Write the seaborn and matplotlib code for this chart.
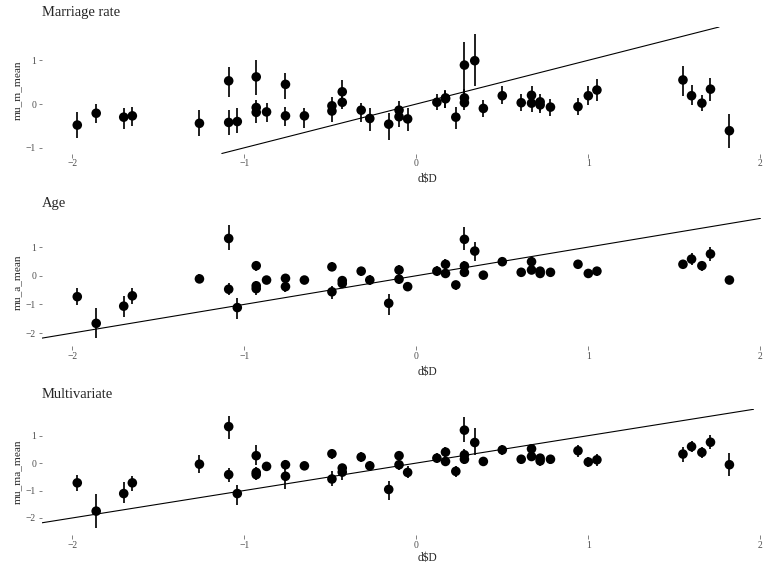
import numpy as np
import pandas as pd

import matplotlib
matplotlib.use("Agg")
import matplotlib.pyplot as plt
import seaborn as sns

# =====================
# DATA
# =====================

D = [-1.97, -1.86, -1.70, -1.65, -1.26, -1.09, -1.09, -1.04, -0.93, -0.93,
     -0.93, -0.87, -0.76, -0.76, -0.65, -0.49, -0.49, -0.43, -0.43, -0.32,
     -0.27, -0.16, -0.10, -0.10, -0.05, 0.12, 0.17, 0.17, 0.23, 0.28,
     0.28, 0.28, 0.34, 0.39, 0.50, 0.61, 0.67, 0.67, 0.72, 0.72,
     0.78, 0.94, 1.00, 1.05, 1.55, 1.60, 1.66, 1.71, 1.82]

mu_m_mean = [-0.48, -0.21, -0.30, -0.27, -0.44, 0.53, -0.42, -0.40, 0.62, -0.08,
             -0.19, -0.18, 0.45, -0.27, -0.27, -0.04, -0.16, 0.28, 0.04, -0.14,
             -0.33, -0.46, -0.14, -0.29, -0.34, 0.04, 0.14, 0.12, -0.30, 0.89,
             0.14, 0.03, 0.99, -0.10, 0.19, 0.03, 0.20, 0.02, 0.05, -0.02,
             -0.07, -0.06, 0.19, 0.32, 0.55, 0.19, 0.02, 0.34, -0.61]
mu_m_lo = [-0.78, -0.44, -0.56, -0.50, -0.74, 0.17, -0.71, -0.66, 0.20, -0.30,
           -0.43, -0.40, 0.11, -0.50, -0.55, -0.22, -0.40, 0.02, -0.12, -0.40,
           -0.62, -0.82, -0.35, -0.52, -0.62, -0.14, -0.09, -0.08, -0.56, 0.21,
           -0.05, -0.14, 0.41, -0.30, 0.00, -0.15, -0.02, -0.18, -0.15, -0.20,
           -0.28, -0.25, -0.02, 0.08, 0.18, -0.03, -0.16, 0.08, -1.00]
mu_m_hi = [-0.18, 0.00, -0.10, -0.07, -0.13, 0.85, -0.14, -0.09, 1.00, 0.10,
           0.02, 0.02, 0.71, -0.06, -0.08, 0.15, 0.05, 0.55, 0.20, 0.02,
           -0.09, -0.20, 0.08, -0.05, -0.09, 0.22, 0.33, 0.30, -0.06, 1.41,
           0.35, 0.20, 1.59, 0.10, 0.41, 0.22, 0.42, 0.20, 0.22, 0.15,
           0.12, 0.13, 0.41, 0.57, 0.88, 0.43, 0.21, 0.60, -0.23]

mu_a_mean = [-0.73, -1.66, -1.06, -0.70, -0.11, 1.30, -0.47, -1.11, 0.35, -0.35,
             -0.45, -0.15, -0.09, -0.38, -0.15, 0.31, -0.56, -0.17, -0.27, 0.16,
             -0.15, -0.96, 0.20, -0.12, -0.38, 0.16, 0.40, 0.08, -0.32, 1.27,
             0.34, 0.12, 0.86, 0.02, 0.49, 0.12, 0.49, 0.20, 0.16, 0.08,
             0.12, 0.40, 0.08, 0.16, 0.40, 0.58, 0.35, 0.76, -0.15]
mu_a_lo = [-1.02, -2.18, -1.45, -0.97, -0.27, 0.90, -0.67, -1.51, 0.18, -0.55,
           -0.66, -0.30, -0.22, -0.55, -0.30, 0.15, -0.82, -0.32, -0.42, 0.00,
           -0.32, -1.36, 0.02, -0.30, -0.52, 0.00, 0.22, -0.08, -0.50, 0.90,
           0.15, -0.05, 0.51, -0.12, 0.33, -0.03, 0.33, 0.05, 0.00, -0.08,
           -0.02, 0.22, -0.08, 0.00, 0.22, 0.36, 0.18, 0.50, -0.30]
mu_a_hi = [-0.44, -1.14, -0.70, -0.42, 0.05, 1.77, -0.27, -0.76, 0.52, -0.18,
           -0.27, 0.00, 0.05, -0.22, -0.02, 0.47, -0.35, -0.03, -0.12, 0.32,
           0.02, -0.62, 0.38, 0.05, -0.22, 0.33, 0.58, 0.25, -0.18, 1.71,
           0.50, 0.28, 1.16, 0.15, 0.65, 0.27, 0.66, 0.35, 0.30, 0.22,
           0.26, 0.56, 0.22, 0.32, 0.56, 0.78, 0.52, 1.00, 0.00]

mu_ma_mean = [-0.72, -1.75, -1.11, -0.72, -0.04, 1.33, -0.42, -1.11, 0.27, -0.34,
              -0.42, -0.12, -0.06, -0.48, -0.10, 0.34, -0.58, -0.18, -0.33, 0.22,
              -0.10, -0.96, 0.27, -0.06, -0.34, 0.18, 0.40, 0.06, -0.30, 1.20,
              0.30, 0.14, 0.75, 0.06, 0.48, 0.14, 0.52, 0.24, 0.18, 0.08,
              0.14, 0.45, 0.04, 0.12, 0.33, 0.60, 0.39, 0.76, -0.06]
mu_ma_lo = [-1.02, -2.37, -1.45, -1.00, -0.36, 0.87, -0.68, -1.53, -0.06, -0.55,
            -0.60, -0.25, -0.25, -0.95, -0.25, 0.14, -0.82, -0.35, -0.60, 0.03,
            -0.30, -1.33, 0.05, -0.25, -0.55, 0.02, 0.20, -0.12, -0.50, 0.78,
            0.10, -0.05, 0.28, -0.10, 0.30, -0.03, 0.32, 0.08, 0.02, -0.10,
            -0.02, 0.22, -0.14, -0.10, 0.05, 0.40, 0.18, 0.52, -0.48]
mu_ma_hi = [-0.42, -1.11, -0.69, -0.46, 0.30, 1.72, -0.18, -0.78, 0.66, -0.15,
            -0.25, 0.02, 0.12, -0.18, 0.05, 0.52, -0.30, -0.02, -0.15, 0.42,
            0.08, -0.64, 0.45, 0.15, -0.12, 0.35, 0.60, 0.25, -0.12, 1.69,
            0.50, 0.32, 1.29, 0.20, 0.66, 0.30, 0.70, 0.40, 0.32, 0.25,
            0.30, 0.65, 0.22, 0.32, 0.60, 0.82, 0.58, 1.02, 0.36]

titles = ["Marriage rate", "Age", "Multivariate"]
ylabels = ["mu_m_mean", "mu_a_mean", "mu_ma_mean"]
x_ticks = [-2, -1, 0, 1, 2]
y_ticks = [[-1, 0, 1], [-2, -1, 0, 1], [-2, -1, 0, 1]]

abline_intercept = 0
abline_slope = 1

df = pd.DataFrame({
    "D": D,
    "mu_m_mean": mu_m_mean, "mu_m_lo": mu_m_lo, "mu_m_hi": mu_m_hi,
    "mu_a_mean": mu_a_mean, "mu_a_lo": mu_a_lo, "mu_a_hi": mu_a_hi,
    "mu_ma_mean": mu_ma_mean, "mu_ma_lo": mu_ma_lo, "mu_ma_hi": mu_ma_hi,
})

# =====================
# STYLE
# =====================

sns.set_style("ticks")
plt.rcParams["font.family"] = ["Liberation Serif", "DejaVu Serif"]

W, H = 765, 564
fig = plt.figure(figsize=(W / 72, H / 72), dpi=72)

# panel boxes in pixels: (top, bottom); panel runs past the right edge (cropped figure)
panels = [(27, 153.5), (218.4, 346), (409.3, 535)]
ylims = [(-1.13, 1.76), (-2.45, 2.0), (-2.62, 1.96)]
xlabel_pads = [4.5, 4.5, 2]
left_px, right_px = 42, 812
xlim = (-2.175, 2.30)


def minus(t):
    return "\u2212" + str(abs(t)) if t < 0 else str(t)


# =====================
# PLOTS
# =====================

for i, (top, bottom) in enumerate(panels):
    ax = fig.add_axes([
        left_px / W,
        1 - bottom / H,
        (right_px - left_px) / W,
        (bottom - top) / H
    ])
    ycol = ylabels[i]
    lo = ycol.replace("_mean", "_lo")
    hi = ycol.replace("_mean", "_hi")

    ax.vlines(df["D"], df[lo], df[hi], color="black", linewidth=1.7, zorder=2)

    sns.scatterplot(
        data=df,
        x="D",
        y=ycol,
        color="black",
        s=92,
        edgecolor="none",
        ax=ax,
        zorder=3
    )

    ax.axline((0, abline_intercept), slope=abline_slope, color="black", linewidth=1.1, zorder=1)

    ax.set_xlim(*xlim)
    ax.set_ylim(*ylims[i])
    ax.set_xticks(x_ticks)
    ax.set_yticks(y_ticks[i])
    ax.set_xticklabels([minus(t) for t in x_ticks])
    ax.set_yticklabels([minus(t) for t in y_ticks[i]])

    sns.despine(ax=ax, left=True, bottom=True)
    ax.tick_params(length=3.5, width=0.6, color="#333333",
                   labelcolor="#4D4D4D", labelsize=9.6, pad=2.5)

    ax.set_xlabel("d$D", fontsize=11.5, labelpad=xlabel_pads[i])
    ax.set_ylabel(ycol, fontsize=11.3, labelpad=4)

    ax.annotate(
        titles[i],
        xy=(0, 1),
        xycoords="axes fraction",
        xytext=(0, 8),
        textcoords="offset points",
        fontsize=14.5,
        ha="left",
        va="bottom"
    )

plt.savefig("out.png", dpi=72)
